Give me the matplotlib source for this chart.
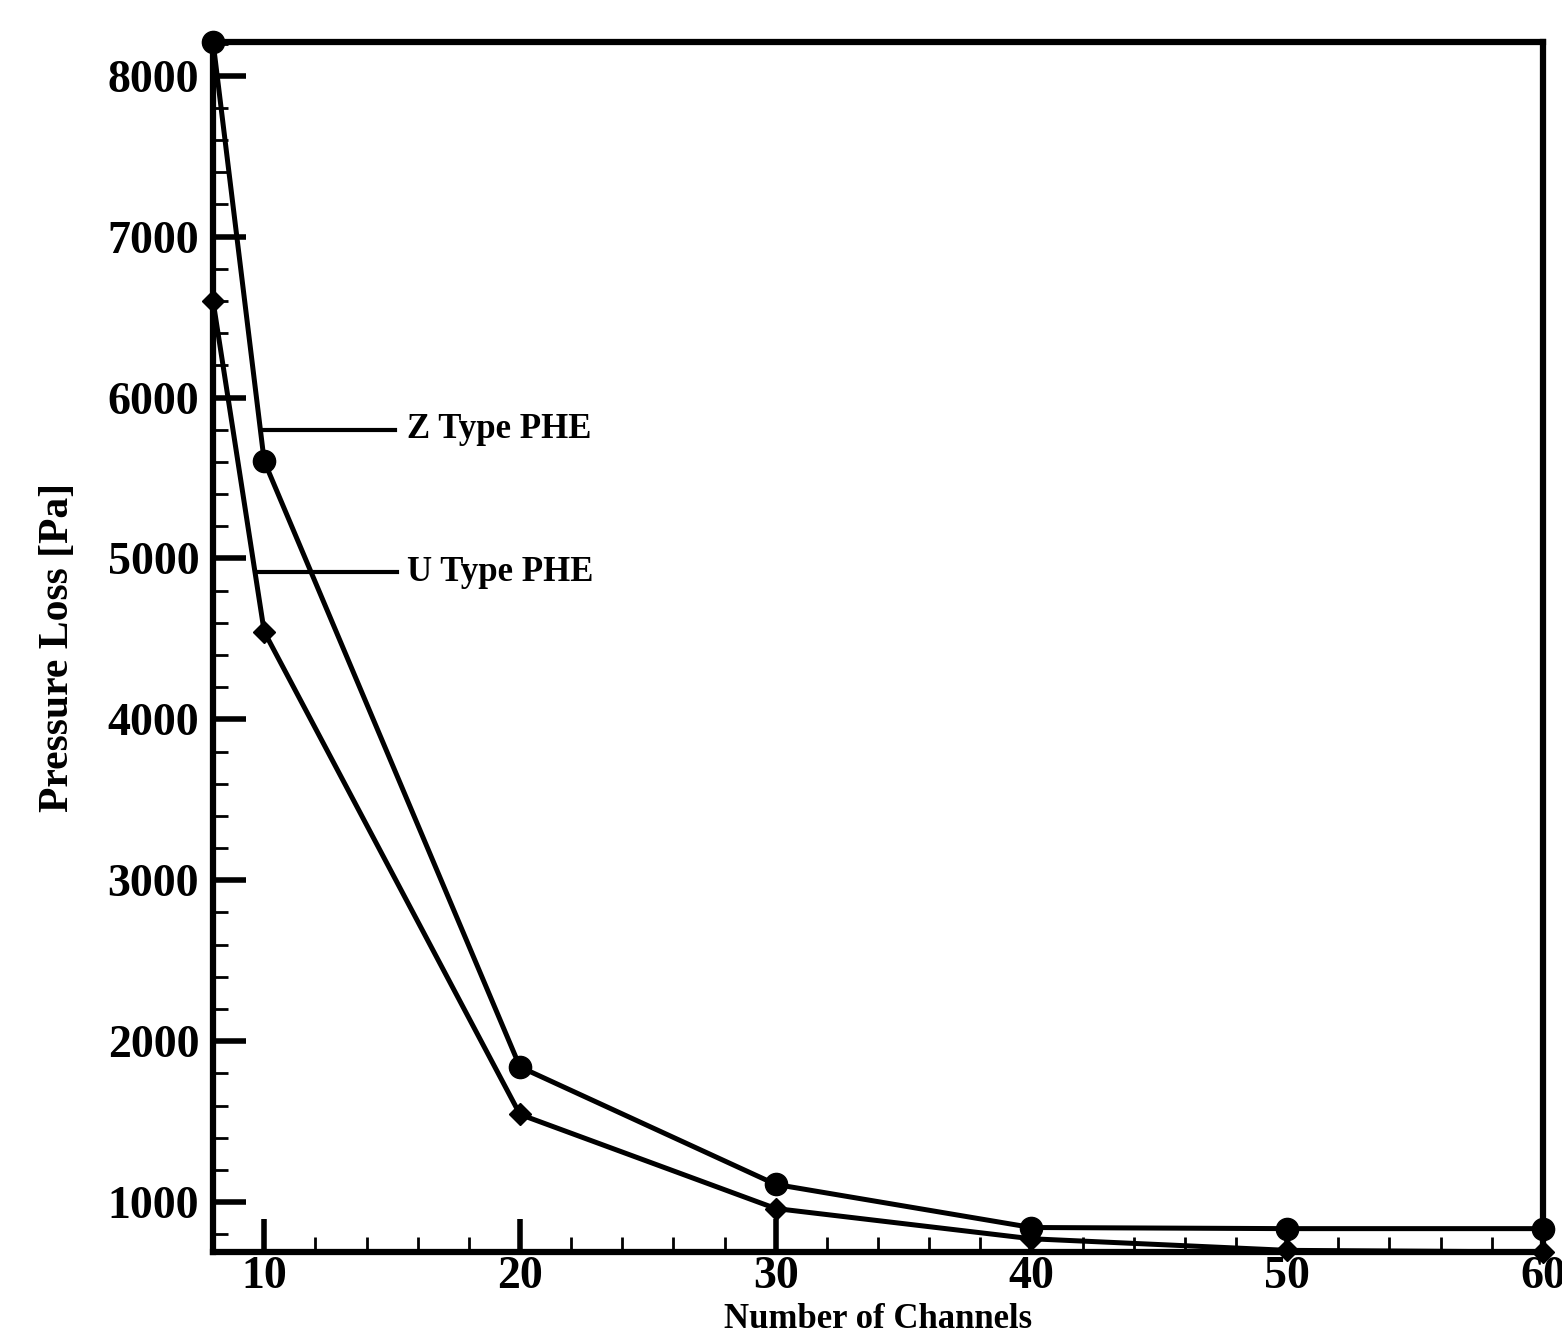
import matplotlib
matplotlib.use("Agg")
import matplotlib.pyplot as plt
from matplotlib.ticker import MultipleLocator

channels = [8, 10, 20, 30, 40, 50, 60]
z_type = [8210, 5605, 1840, 1110, 842, 835, 835]
u_type = [6600, 4545, 1545, 960, 772, 700, 690]
series_names = ["Z Type PHE", "U Type PHE"]

plt.rcParams['font.family'] = ['Liberation Serif', 'DejaVu Serif']
plt.rcParams['font.weight'] = 'bold'

fig = plt.figure(figsize=(15.62, 13.36), dpi=100)
ax = fig.add_axes([0.1364, 0.0629, 0.8514, 0.9057])

lw = 3.6
ax.plot(channels, z_type, color='black', lw=lw, marker='o', ms=16, clip_on=False, zorder=5)
ax.plot(channels, u_type, color='black', lw=lw, marker='D', ms=11, clip_on=False, zorder=5)

ax.set_xlim(8, 60)
ax.set_ylim(690, 8210)

ax.xaxis.set_minor_locator(MultipleLocator(2))
ax.yaxis.set_minor_locator(MultipleLocator(200))
ax.set_yticks([1000, 2000, 3000, 4000, 5000, 6000, 7000, 8000])
ax.set_xticks([10, 20, 30, 40, 50, 60])

ax.tick_params(which='major', direction='in', length=24, width=4, labelsize=33, pad=10,
               top=False, right=False)
ax.tick_params(axis='x', which='major', pad=3)
ax.tick_params(which='minor', direction='in', length=11, width=2, top=False, right=False)
for lab in ax.get_xticklabels() + ax.get_yticklabels():
    lab.set_fontweight('bold')

for s in ax.spines.values():
    s.set_linewidth(4.5)

ax.set_ylabel("Pressure Loss [Pa]", fontsize=30, fontweight='bold', labelpad=22)
fig.text(0.5621, 0.0, "Number of Channels", fontsize=25, fontweight='bold',
         ha='center', va='bottom')

# annotation leaders
ax.plot([9.9, 15.1], [5800, 5800], color='black', lw=3)
ax.plot([9.7, 15.2], [4915, 4915], color='black', lw=3)
ax.text(15.6, 5800, series_names[0], fontsize=25, fontweight='bold', va='center', ha='left')
ax.text(15.6, 4915, series_names[1], fontsize=25, fontweight='bold', va='center', ha='left')

fig.savefig("out.png", dpi=100)
